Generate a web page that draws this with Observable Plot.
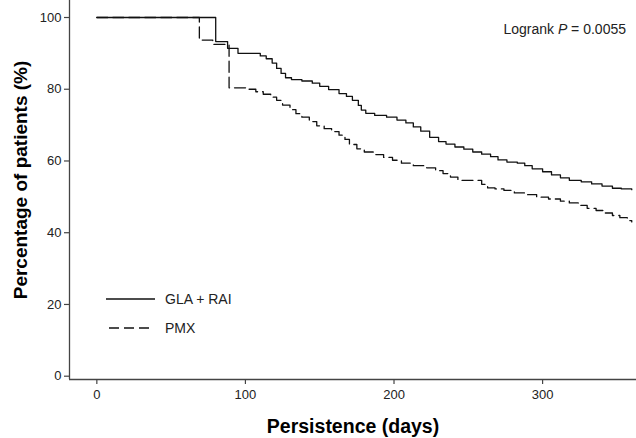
<!DOCTYPE html>
<html>
<head>
<meta charset="utf-8">
<script src="https://cdn.jsdelivr.net/npm/d3@7"></script>
<script src="https://cdn.jsdelivr.net/npm/@observablehq/plot@0.6"></script>
<style>
  html, body { margin: 0; padding: 0; background: #fff; }
  #chart { position: relative; width: 636px; height: 438px; }
</style>
</head>
<body>
<div id="chart"></div>
<script>
// ---- data ----
const GLA_DAYS = [0, 80, 88, 95, 110, 114, 118, 121, 124, 127, 131, 138, 145, 150, 156, 163, 168, 172, 176, 178, 181, 187, 195, 202, 208, 213, 218, 224, 230, 235, 241, 247, 253, 259, 265, 270, 276, 283, 288, 293, 300, 306, 312, 318, 326, 333, 340, 347, 353, 360];
const GLA_PCT  = [100, 93.3, 91.4, 90.0, 89.3, 88.5, 87.3, 85.8, 84.4, 83.2, 82.7, 82.3, 81.7, 80.8, 79.9, 78.8, 78.0, 76.9, 75.5, 74.2, 73.3, 72.7, 72.2, 71.4, 70.6, 69.5, 68.3, 66.6, 65.4, 64.7, 63.9, 63.3, 62.5, 61.9, 61.2, 60.3, 59.7, 59.4, 58.7, 57.8, 57.0, 56.1, 55.3, 54.6, 54.2, 53.6, 53.0, 52.4, 52.2, 52.0];

const PMX_DAYS = [0, 69, 78, 89, 101, 107, 112, 117, 121, 125, 130, 134, 138, 143, 148, 153, 158, 163, 167, 170, 175, 180, 186, 193, 199, 205, 213, 222, 228, 233, 238, 243, 259, 263, 268, 274, 281, 288, 296, 304, 312, 318, 324, 330, 336, 341, 347, 352, 357, 360];
const PMX_PCT  = [100, 93.7, 92.5, 80.4, 80.0, 79.3, 78.6, 77.8, 76.9, 75.6, 74.3, 73.2, 72.2, 71.0, 69.8, 69.0, 68.2, 67.2, 66.0, 64.6, 63.4, 62.5, 61.8, 61.0, 60.2, 59.4, 58.7, 58.1, 57.3, 56.5, 55.5, 54.6, 53.5, 52.5, 52.2, 51.8, 51.1, 50.6, 49.9, 49.4, 48.8, 48.3, 47.6, 46.8, 46.2, 45.5, 44.8, 44.2, 43.4, 43.0];

const SERIES = ["GLA + RAI", "PMX"];
const X_TICKS = [0, 100, 200, 300];
const Y_TICKS = [0, 20, 40, 60, 80, 100];
const X_LABEL = "Persistence (days)";
const Y_LABEL = "Percentage of patients (%)";
const STAT_TEXT = ["Logrank ", "P", " = 0.0055"];

// ---- build tables ----
const gla = GLA_DAYS.map((d, i) => ({day: d, pct: GLA_PCT[i], group: SERIES[0]}));
const pmx = PMX_DAYS.map((d, i) => ({day: d, pct: PMX_PCT[i], group: SERIES[1]}));

const X_DOMAIN = [-18.4, 363.2];
const Y_DOMAIN = [-0.92, 104.74];
const AXIS_COLOR = "#444";
const FONT = "'Liberation Sans', Arial, Helvetica, sans-serif";

const plot = Plot.plot({
  width: 636,
  height: 438,
  marginLeft: 69,
  marginRight: 0,
  marginTop: 0,
  marginBottom: 59,
  style: {fontFamily: FONT, color: "#222", background: "#fff", overflow: "visible"},
  x: {domain: X_DOMAIN},
  y: {domain: Y_DOMAIN},
  marks: [
    Plot.ruleX([X_DOMAIN[0]], {stroke: AXIS_COLOR, strokeWidth: 1.3}),
    Plot.ruleY([Y_DOMAIN[0]], {stroke: AXIS_COLOR, strokeWidth: 1.3}),
    Plot.axisX(X_TICKS, {tickSize: 5, tickPadding: 5, fontSize: 13, label: null, stroke: AXIS_COLOR, strokeWidth: 1.2}),
    Plot.axisY(Y_TICKS, {tickSize: 5, tickPadding: 3, fontSize: 13, label: null, stroke: AXIS_COLOR, strokeWidth: 1.2}),
    Plot.line(gla, {x: "day", y: "pct", curve: "step-after", stroke: "#111", strokeWidth: 1.3}),
    Plot.line(pmx, {x: "day", y: "pct", curve: "step-after", stroke: "#111", strokeWidth: 1.3, strokeDasharray: "11,5"}),
    Plot.text([X_LABEL], {frameAnchor: "bottom", dy: 47, fontSize: 19.5, fontWeight: "bold", fill: "#000", textAnchor: "middle", lineAnchor: "middle"}),
    Plot.text([Y_LABEL], {frameAnchor: "left", dx: -49, dy: -10, rotate: -90, fontSize: 19, fontWeight: "bold", fill: "#000", textAnchor: "middle", lineAnchor: "middle"})
  ]
});

document.getElementById("chart").appendChild(plot);

// ---- legend and statistic annotation ----
const svg = d3.select(plot);
const leg = svg.append("g").attr("font-family", FONT).attr("font-size", 14).attr("fill", "#222").attr("text-anchor", "start");
const legendRows = [
  {label: SERIES[0], dash: null, x1: 106, x2: 155, y: 299},
  {label: SERIES[1], dash: "10,5", x1: 109, x2: 153, y: 328}
];
legendRows.forEach(r => {
  leg.append("line").attr("x1", r.x1).attr("x2", r.x2).attr("y1", r.y).attr("y2", r.y)
    .attr("stroke", "#111").attr("stroke-width", 1.3).attr("stroke-dasharray", r.dash);
  leg.append("text").attr("x", 165).attr("y", r.y + 5).attr("text-anchor", "start").text(r.label);
});

const stat = svg.append("text").attr("font-family", FONT).attr("font-size", 14).attr("fill", "#222")
  .attr("x", 626).attr("y", 34).attr("text-anchor", "end");
stat.append("tspan").text(STAT_TEXT[0]);
stat.append("tspan").attr("font-style", "italic").text(STAT_TEXT[1]);
stat.append("tspan").text(STAT_TEXT[2]);
</script>
</body>
</html>
